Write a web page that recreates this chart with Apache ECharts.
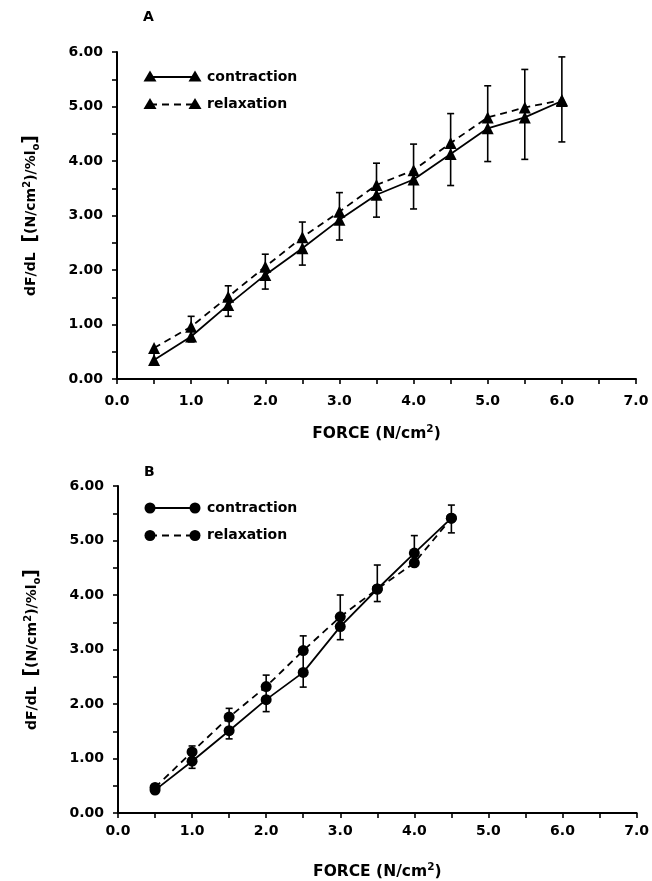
<!DOCTYPE html>
<html><head><meta charset="utf-8">
<script src="https://cdn.jsdelivr.net/npm/echarts@6/dist/echarts.min.js"></script>
<style>html,body{margin:0;padding:0;background:#fff}#c{width:652px;height:881px}</style>
</head><body><div id="c"></div>
<script>
// Panel A (triangles)
const forceA = [0.5,1.0,1.5,2.0,2.5,3.0,3.5,4.0,4.5,5.0,5.5,6.0];
const contractionA = [0.35,0.78,1.36,1.91,2.40,2.92,3.38,3.66,4.13,4.60,4.80,5.10];
const relaxationA  = [0.57,0.96,1.51,2.06,2.60,3.07,3.56,3.83,4.33,4.80,4.98,5.12];
const errHighA = [null,1.15,1.71,2.29,2.88,3.42,3.96,4.31,4.87,5.38,5.68,5.91];
const errLowA  = [null,0.68,1.15,1.65,2.09,2.55,2.97,3.12,3.55,3.99,4.03,4.35];
// Panel B (circles)
const forceB = [0.5,1.0,1.5,2.0,2.5,3.0,3.5,4.0,4.5];
const contractionB = [0.42,0.95,1.51,2.08,2.58,3.42,4.11,4.77,5.41];
const relaxationB  = [0.47,1.12,1.76,2.32,2.98,3.60,4.11,4.59,5.41];
const errHighB = [null,1.23,1.92,2.53,3.25,4.00,4.55,5.09,5.65];
const errLowB  = [null,0.82,1.36,1.86,2.31,3.18,3.88,null,5.14];
const xTicks = [0,1,2,3,4,5,6,7];
const yTicks = [0,1,2,3,4,5,6];
const seriesNames = ['contraction','relaxation'];

const FONT = 'DejaVu Sans';
const chart = echarts.init(document.getElementById('c'), null, {renderer:'canvas'});

function pairs(xs, ys){ return xs.map((x,i)=>[x, ys[i]]); }
function errData(xs, lo, hi, a, b){
  return xs.map((x,i)=>{
    const mn = Math.min(a[i], b[i]), mx = Math.max(a[i], b[i]);
    return [x, lo[i]==null?mn:lo[i], hi[i]==null?mx:hi[i], lo[i]==null?0:1, hi[i]==null?0:1];
  });
}
function errRender(params, api){
  const x = api.value(0);
  const lo = api.coord([x, api.value(1)]);
  const hi = api.coord([x, api.value(2)]);
  const cw = 3.5;
  const st = {stroke:'#000', lineWidth:1.6};
  const ch = [{type:'line', shape:{x1:lo[0],y1:lo[1],x2:hi[0],y2:hi[1]}, style:st}];
  if (api.value(3)) ch.push({type:'line', shape:{x1:lo[0]-cw,y1:lo[1],x2:lo[0]+cw,y2:lo[1]}, style:st});
  if (api.value(4)) ch.push({type:'line', shape:{x1:hi[0]-cw,y1:hi[1],x2:hi[0]+cw,y2:hi[1]}, style:st});
  return {type:'group', children: ch};
}

const axisLabelStyle = {color:'#000', fontFamily:FONT, fontWeight:'bold', fontSize:14};
function xAxis(gi, lm, ng){
  return {type:'value', gridIndex:gi, min:0, max:7, interval:0.5,
    axisLine:{onZero:false, lineStyle:{color:'#000', width:2}},
    axisTick:{length:5, lineStyle:{color:'#000', width:1.6}},
    axisLabel:Object.assign({margin:lm, formatter:v=> xTicks.includes(v)? v.toFixed(1):''}, axisLabelStyle),
    splitLine:{show:false},
    name:'FORCE (N/cm{sup|2})', nameLocation:'middle', nameGap:ng,
    nameTextStyle:{color:'#000', fontFamily:FONT, fontWeight:'bold', fontSize:15.5,
      rich:{sup:{fontSize:10.5, fontFamily:FONT, fontWeight:'bold', color:'#000', verticalAlign:'top', padding:[0,0,8,0]}}}
  };
}
function yAxis(gi){
  return {type:'value', gridIndex:gi, min:0, max:6, interval:0.5,
    axisLine:{onZero:false, lineStyle:{color:'#000', width:2}},
    axisTick:{length:5, lineStyle:{color:'#000', width:1.6}},
    axisLabel:Object.assign({margin:14, formatter:v=> yTicks.includes(v)? v.toFixed(2):''}, axisLabelStyle),
    splitLine:{show:false},
    name:'dF/dL  {br|[}(N/cm{sup|2})/%l{sub|o}{br|]}', nameLocation:'middle', nameGap:76,
    nameTextStyle:{color:'#000', fontFamily:FONT, fontWeight:'bold', fontSize:14,
      rich:{sup:{fontSize:10, fontFamily:FONT, fontWeight:'bold', color:'#000', verticalAlign:'top', padding:[0,0,7,0]},
            sub:{fontSize:10, fontFamily:FONT, fontWeight:'bold', color:'#000', verticalAlign:'bottom'},
            br:{fontSize:19, fontFamily:FONT, color:'#000'}}}
  };
}
function lineSeries(name, xi, data, sym, size, dashed){
  return {type:'line', name:name, xAxisIndex:xi, yAxisIndex:xi, data:data, symbol:sym, symbolSize:size,
    showSymbol:true, z:3,
    itemStyle:{color:'#000', borderWidth:0},
    lineStyle:{color:'#000', width:1.8, type: dashed? [7,5]:'solid'}, animation:false};
}
function legendGroup(y0, sym){
  const out = [];
  seriesNames.forEach((nm, k) => {
    const y = y0 + k*27.5;
    out.push({type:'line', shape:{x1:150, y1:y, x2:195, y2:y},
      style:{stroke:'#000', lineWidth:1.8, lineDash: k? [7,5]: null}});
    [150,195].forEach(cx => {
      out.push(sym==='triangle'
        ? {type:'polygon', shape:{points:[[cx,y-6.5],[cx+6.5,y+4.5],[cx-6.5,y+4.5]]}, style:{fill:'#000'}}
        : {type:'circle', shape:{cx:cx, cy:y, r:5.5}, style:{fill:'#000'}});
    });
    out.push({type:'text', x:207, y:y, style:{text:nm, fill:'#000', font:'bold 14px "DejaVu Sans"', textVerticalAlign:'middle', textAlign:'left'}});
  });
  return out;
}

const option = {
  backgroundColor:'#fff',
  animation:false,
  grid:[{left:117, top:52, width:519, height:327},
        {left:118, top:486, width:521, height:327}],
  xAxis:[xAxis(0, 15, 45), xAxis(1, 11, 49)],
  yAxis:[yAxis(0), yAxis(1)],
  graphic:[
    {type:'text', x:143, y:10, style:{text:'A', fill:'#000', font:'bold 14px "DejaVu Sans"'}},
    {type:'text', x:144, y:465, style:{text:'B', fill:'#000', font:'bold 14px "DejaVu Sans"'}}
  ].concat(legendGroup(77,'triangle')).concat(legendGroup(508,'circle')),
  series:[
    {type:'custom', xAxisIndex:0, yAxisIndex:0, renderItem:errRender, data:errData(forceA, errLowA, errHighA, contractionA, relaxationA), z:2},
    lineSeries(seriesNames[0], 0, pairs(forceA, contractionA), 'triangle', 12, false),
    lineSeries(seriesNames[1], 0, pairs(forceA, relaxationA), 'triangle', 12, true),
    {type:'custom', xAxisIndex:1, yAxisIndex:1, renderItem:errRender, data:errData(forceB, errLowB, errHighB, contractionB, relaxationB), z:2},
    lineSeries(seriesNames[0], 1, pairs(forceB, contractionB), 'circle', 11, false),
    lineSeries(seriesNames[1], 1, pairs(forceB, relaxationB), 'circle', 11, true)
  ]
};
chart.setOption(option);
</script></body></html>
